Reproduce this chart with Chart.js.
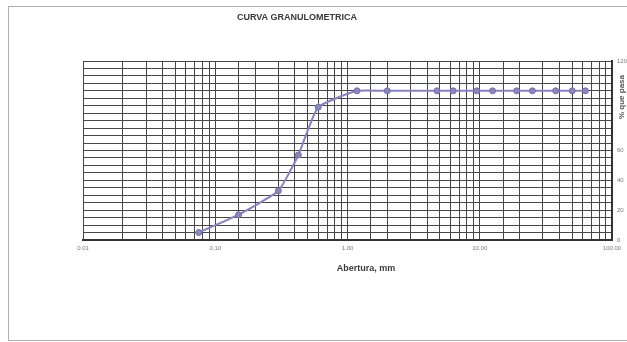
<!DOCTYPE html>
<html>
<head>
<meta charset="utf-8">
<script src="https://cdn.jsdelivr.net/npm/chart.js@4/dist/chart.umd.min.js"></script>
<style>
  html, body { margin: 0; padding: 0; background: #fff; }
  #wrap { position: relative; width: 627px; height: 342px; overflow: hidden; }
  #frame { position: absolute; left: 8px; top: 6px; width: 650px; height: 333px; border: 1px solid #b0b0b0; }
  canvas { position: absolute; left: 0; top: 0; }
</style>
</head>
<body>
<div id="wrap">
  <div id="frame"></div>
  <canvas id="c" width="627" height="342"></canvas>
</div>
<script>
// Data
const chartTitle = "CURVA GRANULOMETRICA";
const xTitle = "Abertura, mm";
const yTitle = "% que pasa";
const aberturas = [0.075, 0.15, 0.3, 0.425, 0.6, 1.18, 2.0, 4.75, 6.3, 9.5, 12.5, 19, 25, 37.5, 50, 63];
const pasa =      [5,     17,   33,  57,    89,  100,  100, 100,  100, 100, 100,  100, 100, 100,  100, 100];
const xTickLabels = [0.01, 0.1, 1, 10, 100];
const yTickLabels = [0, 20, 40, 60, 120];

const textPlugin = {
  id: 'texts',
  afterDraw(chart) {
    const ctx = chart.ctx;
    ctx.save();
    ctx.fillStyle = '#3a3a3a';
    ctx.textAlign = 'center';
    ctx.textBaseline = 'middle';
    ctx.font = 'bold 9px "Liberation Sans", Arial, sans-serif';
    ctx.fillText(chartTitle, 297, 18);
    ctx.fillText(xTitle, 366, 269);
    ctx.translate(622, 97);
    ctx.rotate(-Math.PI / 2);
    ctx.font = 'bold 8px "Liberation Sans", Arial, sans-serif';
    ctx.fillStyle = '#555';
    ctx.fillText(yTitle, 0, 0);
    ctx.restore();
  }
};

new Chart(document.getElementById('c'), {
  type: 'line',
  data: {
    datasets: [{
      data: aberturas.map((a, i) => ({ x: a, y: pasa[i] })),
      borderColor: '#8682c4',
      backgroundColor: '#8682c4',
      pointBackgroundColor: '#8a86c0',
      pointBorderColor: '#7470b0',
      pointRadius: 3,
      pointBorderWidth: 1,
      borderWidth: 2,
      tension: 0.15,
      fill: false
    }]
  },
  options: {
    responsive: false,
    animation: false,
    events: [],
    layout: { padding: { left: 83, top: 61, right: 0, bottom: 82 } },
    plugins: { legend: { display: false }, title: { display: false }, tooltip: { enabled: false } },
    scales: {
      x: {
        type: 'logarithmic',
        min: 0.01,
        max: 100,
        afterFit: (s) => { s.height = 20; },
        grid: { color: '#474747', lineWidth: 1, tickLength: 0, drawTicks: false },
        border: { color: '#333', width: 2 },
        ticks: {
          autoSkip: false,
          maxRotation: 0,
          padding: 5,
          color: '#7a7a7a',
          font: { size: 6, family: '"Liberation Sans", Arial, sans-serif' },
          callback: (v) => {
            const hit = xTickLabels.find(t => Math.abs(Math.log10(v) - Math.log10(t)) < 1e-6);
            return hit !== undefined ? hit.toFixed(2) : '';
          }
        }
      },
      y: {
        position: 'right',
        min: 0,
        max: 120,
        afterFit: (s) => { s.width = 15; },
        grid: { color: '#474747', lineWidth: 1, tickLength: 0, drawTicks: false },
        border: { color: '#333', width: 2 },
        ticks: {
          stepSize: 5,
          autoSkip: false,
          padding: 5,
          color: '#7a7a7a',
          font: { size: 6, family: '"Liberation Sans", Arial, sans-serif' },
          callback: (v) => yTickLabels.includes(v) ? String(v) : ''
        }
      }
    }
  },
  plugins: [textPlugin]
});
</script>
</body>
</html>
